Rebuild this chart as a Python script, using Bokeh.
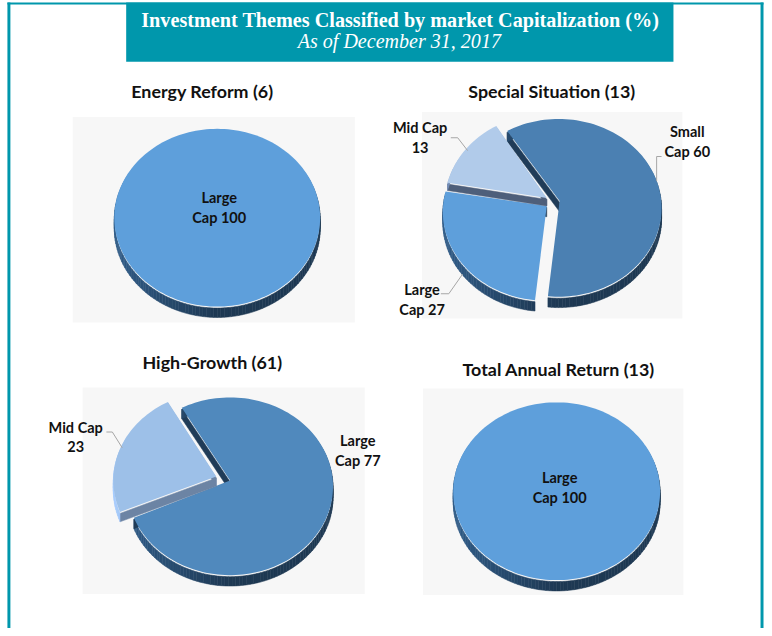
import math
from bokeh.embed import file_html
from bokeh.resources import INLINE
from bokeh.plotting import figure
from bokeh.models import Range1d
from bokeh.core.properties import value

# ---- data ----
energy_labels = ["Large\nCap 100"]
energy_values = [100]
special_labels = ["Small\nCap 60", "Large\nCap 27", "Mid Cap\n13"]
special_values = [60, 27, 13]
growth_labels = ["Large\nCap 77", "Mid Cap\n23"]
growth_values = [77, 23]
annual_labels = ["Large\nCap 100"]
annual_values = [100]
chart_titles = ["Energy Reform (6)", "Special Situation (13)", "High-Growth (61)", "Total Annual Return (13)"]
header_lines = ["Investment Themes Classified by market Capitalization (%)", "As of December 31, 2017"]

# ---- layout ----
W, H = 764, 628
TEAL = "#0097AC"
PANEL = "#F7F7F7"

p = figure(width=W, height=H, output_backend="svg", toolbar_location=None,
           x_range=Range1d(0, 772), y_range=Range1d(636, 0),
           min_border=0, outline_line_color=None, background_fill_color="white")
p.axis.visible = False
p.grid.visible = False


def rect(x0, y0, x1, y1, color):
    p.quad(left=x0, right=x1, top=y0, bottom=y1, fill_color=color, line_color=None)


def arc_points(cx, cy, rx, ry, a0, a1):
    n = max(2, int(abs(a1 - a0) / 2))
    pts = []
    for i in range(n + 1):
        a = math.radians(a0 + (a1 - a0) * i / n)
        pts.append((cx + rx * math.sin(a), cy - ry * math.cos(a)))
    return pts


def shade(c, f):
    r, g, b = int(c[1:3], 16), int(c[3:5], 16), int(c[5:7], 16)
    return "#%02x%02x%02x" % (min(255, int(r * f)), min(255, int(g * f)), min(255, int(b * f)))


def draw_pie(values, start, slices, rx, ry):
    """slices: one (centre, apex, face colour, wall colour, depth) per value, back to front."""
    a = start
    for v, ((cx, cy), (ax, ay), col, wall, depth) in zip(values, slices):
        a0, a1 = a, a + v * 3.6
        a = a1
        full = a1 - a0 >= 359.9
        pts = arc_points(cx, cy, rx, ry, a0, a1)
        poly = pts if full else [(ax, ay)] + pts
        bx, by, bc = [], [], []
        m = len(poly)
        for i in range(m - 1 if full else m):
            q0, q1 = poly[i], poly[(i + 1) % m]
            radial = not full and i in (0, m - 1)
            # a radial side that is almost upright shows only as a hairline: leave it out
            if radial and abs(q1[0] - q0[0]) < 0.2 * abs(q1[1] - q0[1]):
                continue
            bx.append([q0[0], q1[0], q1[0], q0[0]])
            by.append([q0[1] + 1.5, q1[1] + 1.5, q1[1] + depth, q0[1] + depth])
            t = (0.5 * (q0[0] + q1[0]) - (cx - rx)) / (2 * rx)
            bc.append(wall if radial else shade(wall, 1.55 - 0.6 * min(1, max(0, t * 2))))
        p.patches(bx, by, fill_color=bc, line_color=bc, line_width=0.5)
        p.patch([q[0] for q in poly], [q[1] for q in poly], fill_color=col, line_color=None)


def label(x, y, txt, size="10.9pt"):
    for i, line in enumerate(txt.split("\n")):
        p.text([x], [y + i * 20], text=[line], text_font=value("Lato"), text_font_size=size,
               text_font_style="bold", text_color="#111111", text_align="center", text_baseline="middle")


def leader(xs, ys):
    p.line(xs, ys, line_color="#A6A6A6", line_width=1)


# frame
rect(7, 2, 10, 636, TEAL)
rect(768, 2, 771, 636, TEAL)
rect(7, 2, 771, 4, TEAL)
# header
rect(127, 2, 680, 62, TEAL)
p.text([404], [20], text=[header_lines[0]], text_font=value("Liberation Serif"), text_font_size="15.15pt",
       text_font_style="bold", text_color="white", text_align="center", text_baseline="middle")
p.text([403], [41], text=[header_lines[1]], text_font=value("Liberation Serif"), text_font_size="15.05pt",
       text_font_style="italic", text_color="white", text_align="center", text_baseline="middle")

# panels
rect(73, 118, 358, 326, PANEL)
rect(426, 113, 689, 322, PANEL)
rect(83, 392, 368, 601, PANEL)
rect(427, 393, 690, 602, PANEL)

# titles
for (x, y), t in zip([(204, 92), (557, 92), (214, 366), (564, 373)], chart_titles):
    p.text([x], [y], text=[t], text_font=value("Lato"), text_font_size="13.4pt", text_font_style="bold",
           text_color="#111111", text_align="center", text_baseline="middle")

LIGHT = "#5E9FDB"
WALL = "#203C58"
draw_pie(energy_values, 0, [((219, 220), (219, 220), LIGHT, WALL, 11)], 104, 90)
draw_pie(special_values, -30, [
    ((564, 210), (565, 203), "#4B80B2", WALL, 11),
    ((551, 214), (552, 208), LIGHT, WALL, 11),
    ((553, 205), (552, 200), "#B1CBEA", "#4E5F7A", 8),
], 104, 90)
draw_pie(growth_values, -28, [
    ((232, 492), (232, 486), "#5089BD", WALL, 11),
    ((218, 486), (218, 482), "#9DC0E8", "#6C84A4", 10),
], 104, 90)
draw_pie(annual_values, 0, [((562, 497), (562, 497), LIGHT, WALL, 11)], 104.5, 90)

# leaders
leader([455, 462, 472], [139, 139, 152])
leader([445, 453, 467], [297, 297, 277])
leader([668, 663, 663], [158, 158, 183])
leader([107, 113, 123], [437, 437, 453])

# data labels
label(221, 200, energy_labels[0])
label(694, 133, special_labels[0])
label(426, 293, special_labels[1])
label(424, 129, special_labels[2])
label(361, 446, growth_labels[0])
label(76, 432, growth_labels[1])
label(565, 483, annual_labels[0])

open("out.html", "w").write(file_html(p, INLINE))
